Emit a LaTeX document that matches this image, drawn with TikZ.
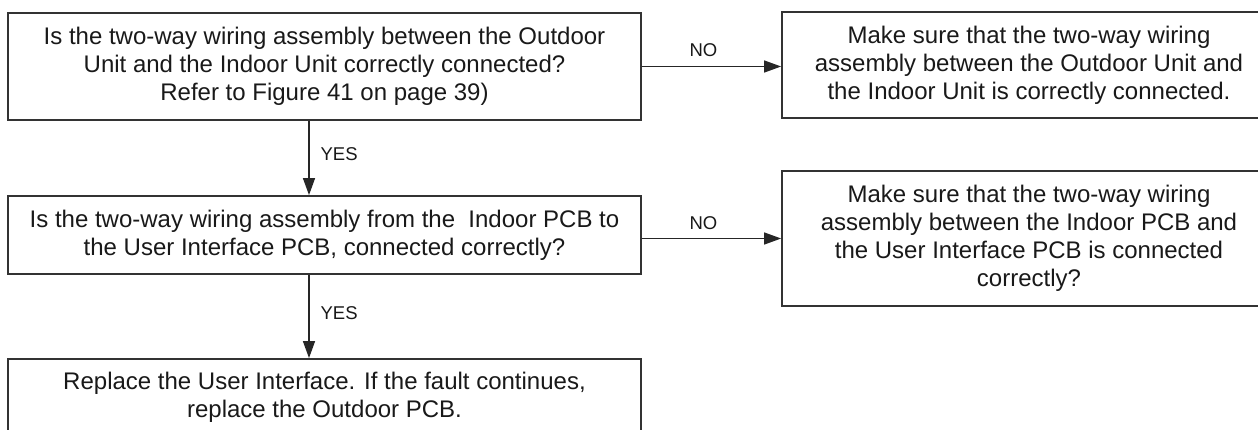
\documentclass[tikz,border=0pt]{standalone}
\usepackage{fontspec}
\setmainfont{Liberation Sans}
\usetikzlibrary{arrows.meta}
\begin{document}
\begin{tikzpicture}[x=1pt,y=-1pt,
  box/.style={draw=black!80, line width=1.8pt, inner sep=0pt, align=center,
    font=\fontsize{24}{28}\selectfont, text=black!90},
  arr/.style={draw=black!85, line width=1.3pt, -{Triangle[length=17pt,width=12pt]}},
  lbl/.style={font=\fontsize{18.5}{22}\selectfont, text=black!90, inner sep=0pt}]
\useasboundingbox[fill=white] (0,0) rectangle (1258,430);
\node[box, minimum width=633pt, minimum height=107pt] (A) at (324.5,66.5)
  {Is the two-way wiring assembly between the Outdoor\\
   Unit and the Indoor Unit correctly connected?\\
   Refer to Figure 41 on page 39)};
\node[box, minimum width=494pt, minimum height=106pt] (B) at (1029,65)
  {Make sure that the two-way wiring\\
   assembly between the Outdoor Unit and\\
   the Indoor Unit is correctly connected.};
\node[box, minimum width=633pt, minimum height=78pt] (C) at (324.5,235)
  {Is the two-way wiring assembly from the \ Indoor PCB to\\
   the User Interface PCB, connected correctly?};
\node[box, minimum width=494pt, minimum height=135pt] (D) at (1029,238.5)
  {Make sure that the two-way wiring\\
   assembly between the Indoor PCB and\\
   the User Interface PCB is connected\\
   correctly?};
\node[box, minimum width=633pt, minimum height=76pt] (E) at (324.5,397)
  {Replace the User Interface. If the fault continues,\\
   replace the Outdoor PCB.};
\draw[arr] (A.east) -- (A.east -| B.west)
  node[lbl, midway, above=9pt, xshift=-8pt] (no1) {NO};
\draw[arr] (C.east |- D.west) -- (D.west)
  node[lbl, midway, above=8pt, xshift=-8pt] (no2) {NO};
\draw[arr] ([xshift=-15.5pt]A.south) -- ([xshift=-15.5pt]C.north)
  node[lbl, midway, anchor=west, xshift=11pt, yshift=4pt] (yes1) {YES};
\draw[arr] ([xshift=-15.5pt]C.south) -- ([xshift=-15.5pt]E.north)
  node[lbl, midway, anchor=west, xshift=11pt, yshift=3.5pt] (yes2) {YES};
\end{tikzpicture}
\end{document}
